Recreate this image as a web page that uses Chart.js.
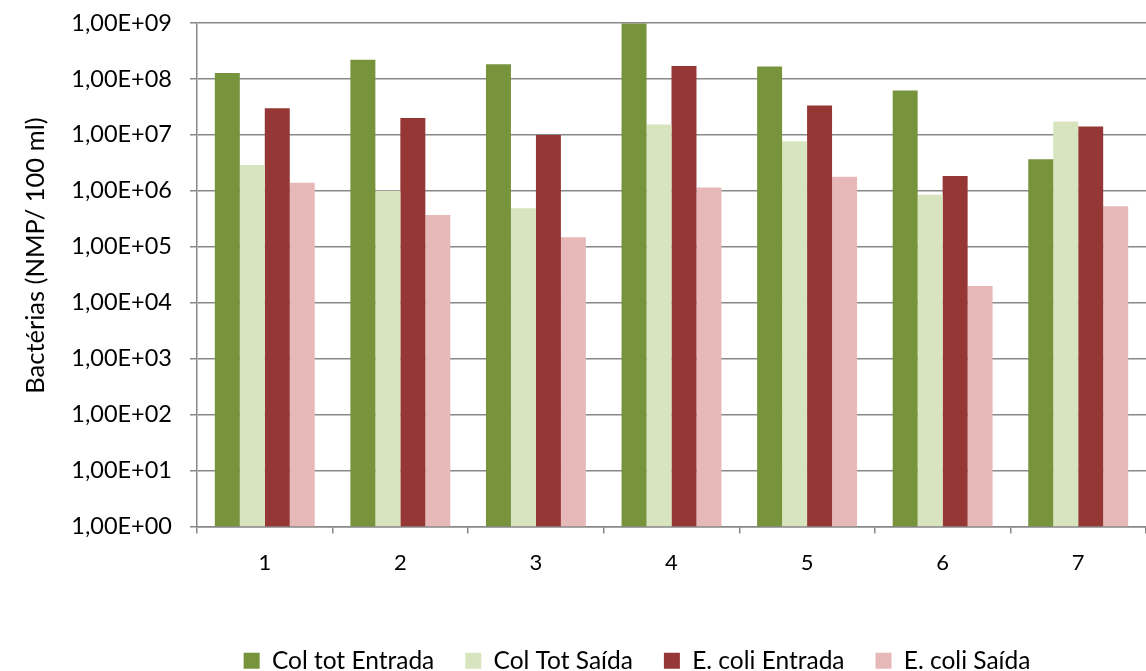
<!DOCTYPE html>
<html>
<head>
<meta charset="utf-8">
<script src="https://cdn.jsdelivr.net/npm/chart.js@4/dist/chart.umd.min.js"></script>
<style>
  html, body { margin: 0; padding: 0; background: #fff; }
  #wrap { width: 1146px; height: 671px; }
</style>
</head>
<body>
<div id="wrap"><canvas id="grafico"></canvas></div>
<script>
// categorias (amostras)
var categorias = ['1', '2', '3', '4', '5', '6', '7'];

// series (NMP/100 ml)
var colTotEntrada = [1.28e8, 2.2e8, 1.83e8, 9.8e8, 1.67e8, 6.2e7, 3.66e6];
var colTotSaida = [2.9e6, 1.0e6, 4.9e5, 1.53e7, 7.7e6, 8.5e5, 1.73e7];
var ecoliEntrada = [3.0e7, 2.0e7, 1.0e7, 1.71e8, 3.34e7, 1.84e6, 1.41e7];
var ecoliSaida = [1.39e6, 3.7e5, 1.48e5, 1.15e6, 1.78e6, 2.0e4, 5.3e5];

// marcas do eixo y
var yTicks = [1, 1e1, 1e2, 1e3, 1e4, 1e5, 1e6, 1e7, 1e8, 1e9];
var yTickLabels = ['1,00E+00', '1,00E+01', '1,00E+02', '1,00E+03', '1,00E+04',
                   '1,00E+05', '1,00E+06', '1,00E+07', '1,00E+08', '1,00E+09'];

var fonte = 'Lato, "Open Sans", sans-serif';
var cinza = '#888888';

// legenda: um pouco para baixo e para a direita
var moveLegenda = {
	id: 'moveLegenda',
	afterLayout: function(chart){
		var l = chart.legend;
		l.top += 12; l.bottom += 12;
		l.left += 64; l.right += 64;
	}
};

new Chart(document.getElementById('grafico'), {
	type: 'bar',
	data: {
		labels: categorias,
		datasets: [
			{ label: 'Col tot Entrada', backgroundColor: '#77933C', data: colTotEntrada },
			{ label: 'Col Tot Saída', backgroundColor: '#D7E4BD', data: colTotSaida },
			{ label: 'E. coli Entrada', backgroundColor: '#953735', data: ecoliEntrada },
			{ label: 'E. coli Saída', backgroundColor: '#E6B9B8', data: ecoliSaida }
		]
	},
	options: {
		responsive: true,
		maintainAspectRatio: false,
		animation: false,
		datasets: {
			bar: { barPercentage: 1, categoryPercentage: 0.737, borderWidth: 0 }
		},
		layout: { padding: 0 },
		plugins: {
			legend: {
				position: 'bottom',
				labels: {
					boxWidth: 16,
					boxHeight: 16,
					padding: 31,
					color: '#000',
					font: { family: fonte, size: 24.5 }
				}
			},
			tooltip: { enabled: false }
		},
		scales: {
			x: {
				grid: { offset: true, drawOnChartArea: false, tickLength: 7, color: cinza, lineWidth: 1.5 },
				border: { color: cinza, width: 1.5 },
				ticks: { color: '#000', padding: 16, font: { family: fonte, size: 22 } },
				afterFit: function(axis){ axis.height = 79; }
			},
			y: {
				type: 'logarithmic',
				min: 1,
				max: 1e9,
				afterBuildTicks: function(axis){
					axis.ticks = yTicks.map(function(v){ return { value: v }; });
				},
				afterFit: function(axis){
					axis.width = 197;
					axis.paddingTop = 23;
					axis.paddingBottom = 0;
				},
				grid: { color: cinza, lineWidth: 1.5, tickLength: 7 },
				border: { color: cinza, width: 1.5 },
				ticks: {
					color: '#000',
					padding: 18,
					font: { family: fonte, size: 23.5 },
					callback: function(v){
						var i = yTicks.indexOf(v);
						return i >= 0 ? yTickLabels[i] : '';
					}
				},
				title: {
					display: true,
					text: '\u2003\u2003Bactérias (NMP/ 100 ml)',
					color: '#000',
					font: { family: fonte, size: 25.5 },
					padding: { top: 20, bottom: 0 }
				}
			}
		}
	},
	plugins: [moveLegenda]
});
</script>
</body>
</html>
